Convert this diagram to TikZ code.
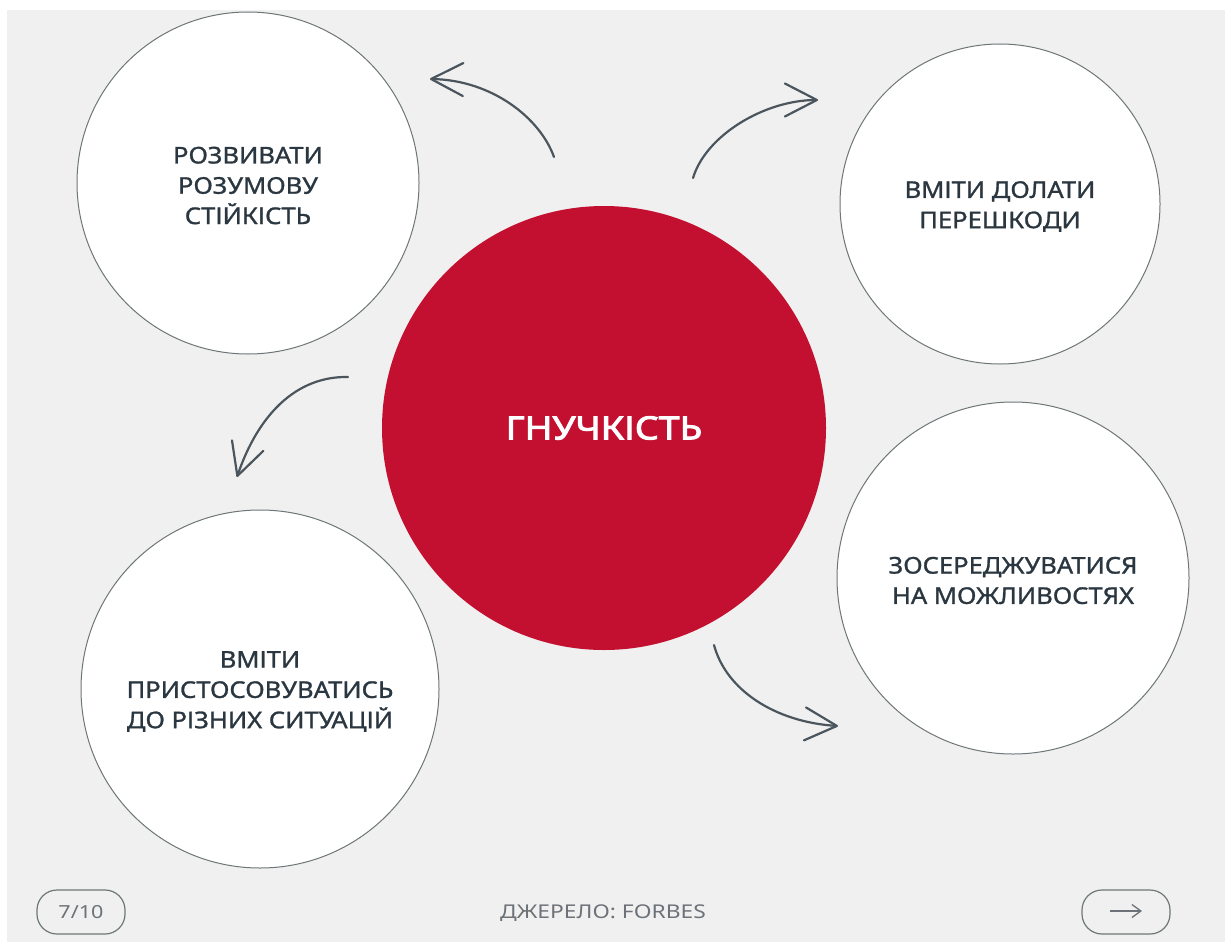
\documentclass[tikz,border=0pt]{standalone}
\usepackage{fontspec}
\usetikzlibrary{arrows.meta}
\setmainfont{Noto Sans}
\newfontfamily\bubblefont[FakeStretch=1.11,FakeBold=1.2]{Noto Sans}
\newfontfamily\hubfont[FakeStretch=1.17,FakeBold=3]{Noto Sans}
\newfontfamily\footfont[FakeStretch=1.2]{Noto Sans}
\definecolor{bgc}{HTML}{F0F0F0}
\definecolor{ink}{HTML}{2B3740}
\definecolor{ringc}{HTML}{6E7678}
\definecolor{redc}{HTML}{C30F30}
\definecolor{footc}{HTML}{6C7278}
\tikzset{
 bubble/.style={circle,draw=ringc,line width=1pt,fill=white,inner sep=0pt,outer sep=0pt},
 caption/.style={inner sep=0pt,align=center,text=ink,yshift=-2.5pt,font=\bubblefont\fontsize{23}{30.3}\selectfont},
 hub/.style={circle,fill=redc,inner sep=0pt,outer sep=0pt,text=white,font=\hubfont\fontsize{32}{38}\selectfont},
 flow/.style={draw=ink!85,line width=2.2pt,line cap=round,-{Straight Barb[length=32pt,width=33pt,line width=2.2pt,round]}},
 pill/.style={draw=ringc,line width=1.2pt,rounded corners=20pt,minimum width=88pt,minimum height=44pt,inner sep=0pt,outer sep=0pt,text=footc,font=\footfont\fontsize{19}{22}\selectfont},
 foot/.style={inner sep=0pt,text=footc,font=\footfont\fontsize{19}{22}\selectfont},
}
\begin{document}
\begin{tikzpicture}[x=1pt,y=-1pt]
\useasboundingbox (0,0) rectangle (1225,942);
\fill[white] (0,0) rectangle (1225,942);
\fill[bgc] (7,10) rectangle (1225,942);
\node[bubble,minimum size=342pt] (tl) at (248,183) {};
\node[caption] (tlt) at (tl) {РОЗВИВАТИ\\РОЗУМОВУ\\СТІЙКІСТЬ};
\node[bubble,minimum size=320pt] (tr) at (1000,204) {};
\node[caption] (trt) at (tr) {ВМІТИ ДОЛАТИ\\ПЕРЕШКОДИ};
\node[bubble,minimum size=352pt] (br) at (1013,578) {};
\node[caption] (brt) at (br) {ЗОСЕРЕДЖУВАТИСЯ\\НА МОЖЛИВОСТЯХ};
\node[bubble,minimum size=358pt] (bl) at (260,689) {};
\node[caption] (blt) at (bl) {ВМІТИ\\ПРИСТОСОВУВАТИСЬ\\ДО РІЗНИХ СИТУАЦІЙ};
\node[hub,minimum size=444pt] (hub) at (604,428) {ГНУЧКІСТЬ};
\coordinate (a1) at (554,157); \coordinate (a2) at (430,79);
\coordinate (b1) at (693,178); \coordinate (b2) at (818,100);
\coordinate (c1) at (348,377); \coordinate (c2) at (237,477);
\coordinate (d1) at (714,645); \coordinate (d2) at (838,726);
\draw[flow] (a1) .. controls (540,118) and (492,80) .. (a2);
\draw[flow] (b1) .. controls (706,135) and (765,100) .. (b2);
\draw[flow] (c1) .. controls (296,376) and (258,415) .. (c2);
\draw[flow] (d1) .. controls (726,690) and (775,722) .. (d2);
\node[pill] (page) at (81,912) {\raisebox{-2pt}{\fontsize{18}{22}\selectfont 7/10}};
\node[foot] (src) at (603,913) {ДЖЕРЕЛО: FORBES};
\node[pill] (next) at (1126,912) {};
\coordinate (n1) at (1110,911); \coordinate (n2) at (1142,911);
\draw[draw=footc,line width=1.3pt,-{Straight Barb[length=9pt,width=13pt,line width=1.3pt]}] (n1) -- (n2);
\end{tikzpicture}
\end{document}
